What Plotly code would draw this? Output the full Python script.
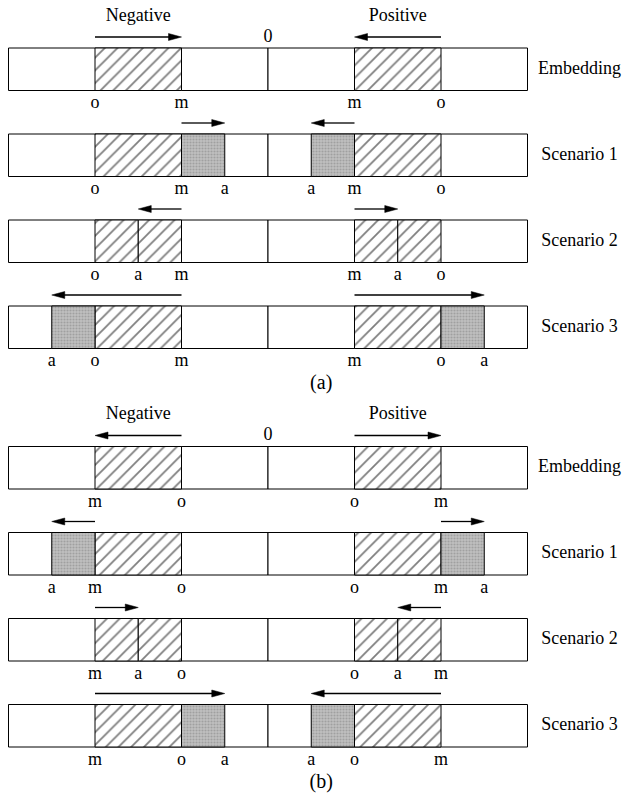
import plotly.graph_objects as go

# ---------------- data ----------------
row_names = ["Embedding", "Scenario 1", "Scenario 2", "Scenario 3"]
panel_names = ["(a)", "(b)"]
half_len = 6                     # bar spans -6 .. 6 (0 in the middle)

# positions on the negative side (positive side is the mirror image)
a_o = [-4, -4, -4, -4]
a_m = [-2, -2, -2, -2]
a_a = [None, -1, -3, -5]

b_o = [-2, -2, -2, -2]
b_m = [-4, -4, -4, -4]
b_a = [None, -5, -3, -1]

panels = [(a_o, a_m, a_a), (b_o, b_m, b_a)]
side_labels = ["Negative", "Positive"]
side_label_pos = [-3, 3]

# ---------------- layout constants (pixels) ----------------
W, H = 622, 799
PX_PER_UNIT = 43.25
X0_PX = 268.0
panel_top = [48.0, 446.5]
row_step = 86.0
bar_h = 42.5
FONT = "Liberation Serif"

def row_top(p, r):
    return panel_top[p] + r * row_step

white_y, white_x, white_base = [], [], []
hat_y, hat_x, hat_base = [], [], []
gray_y, gray_x, gray_base = [], [], []
lab_x, lab_y, lab_t = [], [], []
arrows = []  # (x_tail, x_tip, y)

for p, (oo, mm, aa) in enumerate(panels):
    for r in range(len(row_names)):
        top = row_top(p, r)
        yc = top + bar_h / 2
        for s, w in [(-half_len, half_len), (0, half_len)]:
            white_y.append(yc); white_x.append(w); white_base.append(s)
        for sign in (1, -1):
            o = oo[r] * sign
            m = mm[r] * sign
            a = aa[r] * sign if aa[r] is not None else None
            lo, hi = min(o, m), max(o, m)
            if a is not None and lo < a < hi:
                for s, e in [(lo, a), (a, hi)]:
                    hat_y.append(yc); hat_x.append(e - s); hat_base.append(s)
            else:
                hat_y.append(yc); hat_x.append(hi - lo); hat_base.append(lo)
                if a is not None:
                    near = lo if abs(a - lo) < abs(a - hi) else hi
                    s, e = min(a, near), max(a, near)
                    gray_y.append(yc); gray_x.append(e - s); gray_base.append(s)
            ly = top + bar_h + 13
            for v, t in [(o, "o"), (m, "m"), (a, "a")]:
                if v is not None:
                    lab_x.append(v); lab_y.append(ly); lab_t.append(t)
            ay = top - 11
            if a is None:
                arrows.append((o, m, ay))
            else:
                arrows.append((m, a, ay))

fig = go.Figure()
line = dict(color="black", width=1)
fig.add_trace(go.Bar(orientation="h", y=white_y, x=white_x, base=white_base,
                     width=bar_h, marker=dict(color="white", line=line),
                     hoverinfo="skip", showlegend=False))
fig.add_trace(go.Bar(orientation="h", y=hat_y, x=hat_x, base=hat_base,
                     width=bar_h,
                     marker=dict(color="white", line=line,
                                 pattern=dict(shape="/", size=9, solidity=0.2,
                                              fgcolor="black", bgcolor="white")),
                     hoverinfo="skip", showlegend=False))
fig.add_trace(go.Bar(orientation="h", y=gray_y, x=gray_x, base=gray_base,
                     width=bar_h,
                     marker=dict(color="#b4b4b4", line=line,
                                 pattern=dict(shape=".", size=3, solidity=0.4,
                                              fgcolor="#808080", bgcolor="#c0c0c0")),
                     hoverinfo="skip", showlegend=False))

# o / m / a labels
fig.add_trace(go.Scatter(x=lab_x, y=lab_y, text=lab_t, mode="text",
                         textfont=dict(family=FONT, size=18, color="black"),
                         hoverinfo="skip", showlegend=False))

# row names
rn_x, rn_y, rn_t = [], [], []
for p in range(2):
    for r, name in enumerate(row_names):
        rn_x.append(7.2); rn_y.append(row_top(p, r) + bar_h / 2); rn_t.append(name)
fig.add_trace(go.Scatter(x=rn_x, y=rn_y, text=rn_t, mode="text",
                         textfont=dict(family=FONT, size=18, color="black"),
                         hoverinfo="skip", showlegend=False, cliponaxis=False))

# Negative / Positive / 0 / captions
tx, ty, tt, ts = [], [], [], []
for p in range(2):
    for lbl, pos in zip(side_labels, side_label_pos):
        tx.append(pos); ty.append(panel_top[p] - 32); tt.append(lbl); ts.append(18)
    tx.append(0); ty.append(panel_top[p] - 11); tt.append("0"); ts.append(18)
    tx.append(1.23); ty.append(panel_top[p] + 336); tt.append(panel_names[p]); ts.append(20)
fig.add_trace(go.Scatter(x=tx, y=ty, text=tt, mode="text",
                         textfont=dict(family=FONT, size=ts, color="black"),
                         hoverinfo="skip", showlegend=False, cliponaxis=False))

# arrows
head_len = 13 / PX_PER_UNIT
head_half = 3.5
shapes = []
for xt, xh, y in arrows:
    d = 1 if xh > xt else -1
    base_x = xh - d * head_len
    shapes.append(dict(type="line", xref="x", yref="y", x0=xt, x1=base_x + d * 0.02,
                       y0=y, y1=y, line=dict(color="black", width=1.3)))
    shapes.append(dict(type="path", xref="x", yref="y",
                       path=f"M {xh},{y} L {base_x},{y - head_half} L {base_x},{y + head_half} Z",
                       fillcolor="black", line=dict(color="black", width=0.5)))

fig.update_layout(
    width=W, height=H, margin=dict(l=0, r=0, t=0, b=0),
    paper_bgcolor="white", plot_bgcolor="white",
    barmode="overlay", shapes=shapes,
    xaxis=dict(range=[-X0_PX / PX_PER_UNIT, (W - X0_PX) / PX_PER_UNIT],
               visible=False, fixedrange=True),
    yaxis=dict(range=[H, 0], visible=False, fixedrange=True),
)

fig.write_html("out.html", config={"displayModeBar": False},
               post_script="document.body.style.margin='0';document.body.style.overflow='hidden';")
